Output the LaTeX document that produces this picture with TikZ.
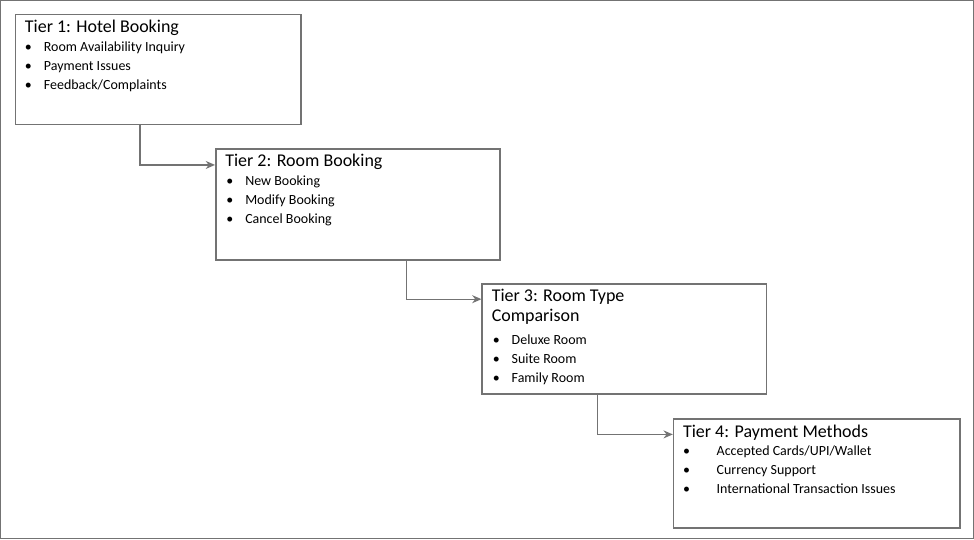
\documentclass[tikz,border=0pt]{standalone}
\usepackage{fontspec}
\setmainfont{Carlito}
\usetikzlibrary{positioning,arrows.meta}
\begin{document}
\begin{tikzpicture}[
    x=0.0264583cm,y=-0.0264583cm,
    tier/.style={draw=black!55,line width=1.2pt,anchor=north west,inner sep=0pt},
    title/.style={anchor=north west,font=\fontsize{13.5}{15}\selectfont,inner sep=0pt,align=left},
    items/.style={anchor=north west,font=\fontsize{10.5}{14.3}\selectfont,inner sep=0pt,align=left},
    link/.style={draw=black!55,line width=1pt,-{Stealth[length=7pt,width=6pt]}}
    ]

    \draw[black!55,line width=1pt] (1,1) rectangle (972,538);

    \node (box1) [tier,minimum width=7.54cm,minimum height=2.91cm] at (15,14) {};
    \node (box2) [tier,minimum width=7.51cm,minimum height=2.94cm] at (215,148) {};
    \node (box3) [tier,minimum width=7.51cm,minimum height=2.91cm] at (481,283) {};
    \node (box4) [tier,minimum width=7.57cm,minimum height=2.88cm] at (672,418) {};

    \node (t1) [title] at (25,20) {Tier 1: Hotel Booking};
    \node (l1) [items] at (25,42) {•\hspace{9pt}Room Availability Inquiry\\•\hspace{9pt}Payment Issues\\•\hspace{9pt}Feedback/Complaints};

    \node (t2) [title] at (225,154) {Tier 2: Room Booking};
    \node (l2) [items] at (226,176) {•\hspace{9pt}New Booking\\•\hspace{9pt}Modify Booking\\•\hspace{9pt}Cancel Booking};

    \node (t3) [title] at (491,289) {Tier 3: Room Type\\Comparison};
    \node (l3) [items] at (492,334) {•\hspace{9pt}Deluxe Room\\•\hspace{9pt}Suite Room\\•\hspace{9pt}Family Room};

    \node (t4) [title] at (682,424) {Tier 4: Payment Methods};
    \node (l4) [items] at (682,445) {•\hspace{20pt}Accepted Cards/UPI/Wallet\\•\hspace{20pt}Currency Support\\•\hspace{20pt}International Transaction Issues};

    \coordinate (s1) at (140,124);
    \coordinate (s2) at (406,259);
    \coordinate (s3) at (597,393);
    \draw[link] (s1) |- (box2.west |- 0,165);
    \draw[link] (s2) |- (box3.west |- 0,299);
    \draw[link] (s3) |- (box4.west |- 0,434);

  \end{tikzpicture}
\end{document}
